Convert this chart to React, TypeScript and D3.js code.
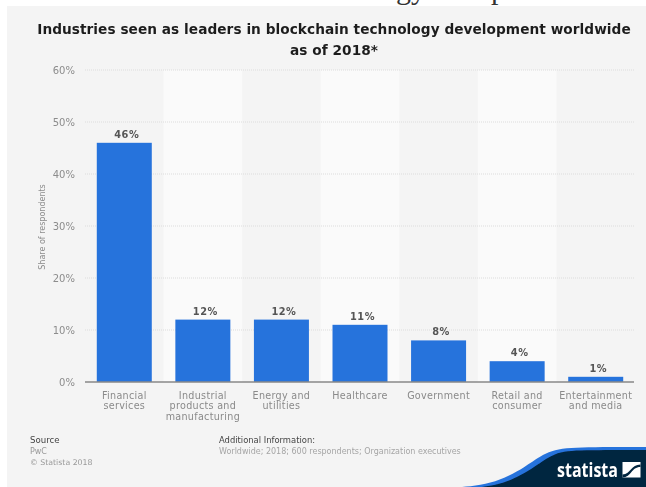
import React from "react";
import * as d3 from "d3";

const categories = [
  ["Financial", "services"],
  ["Industrial", "products and", "manufacturing"],
  ["Energy and", "utilities"],
  ["Healthcare"],
  ["Government"],
  ["Retail and", "consumer"],
  ["Entertainment", "and media"],
];
const shares = [46, 12, 12, 11, 8, 4, 1];
const yTicks = [0, 10, 20, 30, 40, 50, 60];
const titleLines = [
  "Industries seen as leaders in blockchain technology development worldwide",
  "as of 2018*",
];

const W = 646;
const H = 487;
const SANS = "'DejaVu Sans', sans-serif";

export default function App() {
  const ids = d3.range(categories.length);
  const x = d3.scaleBand<number>().domain(ids).range([85, 635]).paddingInner(0).paddingOuter(0);
  const y = d3.scaleLinear().domain([0, 60]).range([382, 70]);
  const barW = x.bandwidth() * 0.7;
  const wave = d3.line().curve(d3.curveBasis);
  const blueEdge = wave([[448, 488], [492, 485], [526, 467], [548, 450], [575, 447], [646, 447]]) as string;
  const navyEdge = wave([[472, 488], [503, 485], [533, 469], [554, 452], [580, 450], [646, 450]]) as string;

  return (
    <svg
      width={W}
      height={H}
      viewBox={`0 0 ${W} ${H}`}
      style={{ position: "fixed", left: 0, top: 0, display: "block", background: "#fff" }}
    >
      <defs>
        <filter id="soft" x="-5%" y="-5%" width="110%" height="110%">
          <feGaussianBlur stdDeviation="0.45" />
        </filter>
      </defs>

      <text x={396} y={-1} fontFamily="'Liberation Serif', serif" fontSize={30} fill="#333">gy</text>
      <text x={491} y={-1} fontFamily="'Liberation Serif', serif" fontSize={30} fill="#333">p</text>

      <g filter="url(#soft)">
        <rect x={7} y={6} width={W - 7} height={H - 6} fill="#f4f4f4" />

        {ids.filter((i) => i % 2 === 1).map((i) => (
          <rect key={i} x={x(i)} y={y(60)} width={x.bandwidth()} height={y(0) - y(60)} fill="#fafafa" />
        ))}

        {yTicks.filter((t) => t > 0).map((t) => (
          <line key={t} x1={85} x2={635} y1={y(t)} y2={y(t)} stroke="#dcdcdc" strokeWidth={1} strokeDasharray="1 1" />
        ))}

        {yTicks.map((t) => (
          <text key={t} x={75} y={y(t) + 4} textAnchor="end" fontFamily={SANS} fontSize={10} fill="#8c8c8c">
            {t}%
          </text>
        ))}

        <text
          transform={`translate(45 ${(y(0) + y(60)) / 2 + 1}) rotate(-90)`}
          textAnchor="middle"
          fontFamily={SANS}
          fontSize={8}
          fill="#8c8c8c"
        >
          Share of respondents
        </text>

        {shares.map((v, i) => {
          const cx = (x(i) as number) + x.bandwidth() / 2;
          return (
            <g key={i}>
              <rect x={cx - barW / 2} y={y(v)} width={barW} height={y(0) - y(v)} fill="#2873dc" />
              <text x={cx + 2.5} y={y(v) - 5} textAnchor="middle" fontFamily={SANS} fontSize={9.8} fontWeight={700} letterSpacing={0.5} fill="#555">
                {v}%
              </text>
              {categories[i].map((line, k) => (
                <text key={k} x={cx} y={399 + k * 10.4} textAnchor="middle" fontFamily={SANS} fontSize={9.6} letterSpacing={0.3} fill="#8a8a8a">
                  {line}
                </text>
              ))}
            </g>
          );
        })}

        <line x1={85} x2={634} y1={382} y2={382} stroke="#888" strokeWidth={1.3} />

        {titleLines.map((line, k) => (
          <text key={k} x={334} y={33.5 + k * 21} textAnchor="middle" fontFamily={SANS} fontSize={13.7} fontWeight={700} letterSpacing={0.04} fill="#1f1f1f">
            {line}
          </text>
        ))}

        <text x={30} y={443} fontFamily={SANS} fontSize={8.6} fill="#444">Source</text>
        <text x={30} y={454} fontFamily={SANS} fontSize={8} fill="#999">PwC</text>
        <text x={30} y={465} fontFamily={SANS} fontSize={7.8} fill="#999">© Statista 2018</text>
        <text x={219} y={443} fontFamily={SANS} fontSize={8.4} fill="#444">Additional Information:</text>
        <text x={219} y={454} fontFamily={SANS} fontSize={8} fill="#a5a5a5">Worldwide; 2018; 600 respondents; Organization executives</text>

        <path d={`${blueEdge} L646 488 Z`} fill="#2873dc" />
        <path d={`${navyEdge} L646 488 Z`} fill="#03253f" />
        <text x={557} y={477} fontFamily="'Open Sans', sans-serif" fontSize={20} fontWeight={700} fill="#fff" textLength={61} lengthAdjust="spacingAndGlyphs">statista</text>
        <rect x={622.5} y={462} width={18} height={15.5} fill="#fff" />
        <path d="M622.5 477.5 C632 477 631 467 640.5 467 L640.5 464.5 C631 464.5 631 474 622.5 474.5 Z" fill="#03253f" />
      </g>
    </svg>
  );
}
